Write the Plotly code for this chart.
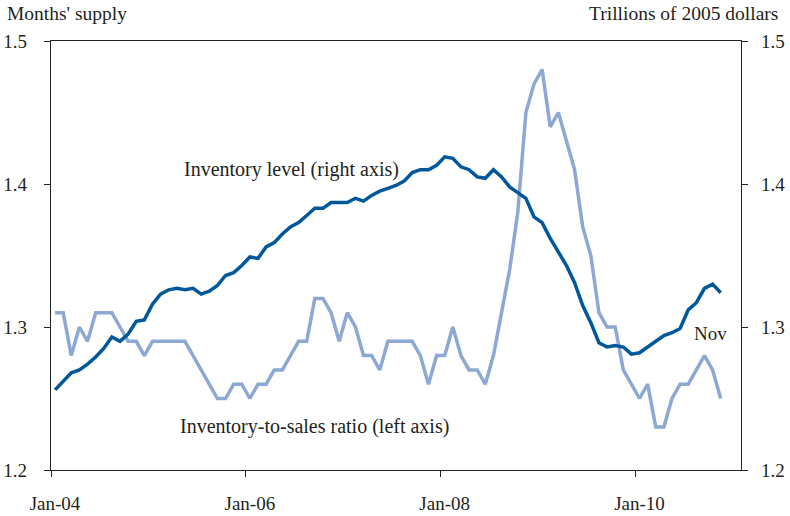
import plotly.graph_objects as go

# monthly, Jan-04 .. Nov-10
ratio = [1.31, 1.31, 1.28, 1.30, 1.29, 1.31, 1.31, 1.31, 1.30, 1.29,
         1.29, 1.28, 1.29, 1.29, 1.29, 1.29, 1.29, 1.28, 1.27, 1.26,
         1.25, 1.25, 1.26, 1.26, 1.25, 1.26, 1.26, 1.27, 1.27, 1.28,
         1.29, 1.29, 1.32, 1.32, 1.31, 1.29, 1.31, 1.30, 1.28, 1.28,
         1.27, 1.29, 1.29, 1.29, 1.29, 1.28, 1.26, 1.28, 1.28, 1.30,
         1.28, 1.27, 1.27, 1.26, 1.28, 1.31, 1.34, 1.38, 1.45, 1.47,
         1.48, 1.44, 1.45, 1.43, 1.41, 1.37, 1.35, 1.31, 1.30, 1.30,
         1.27, 1.26, 1.25, 1.26, 1.23, 1.23, 1.25, 1.26, 1.26, 1.27,
         1.28, 1.27, 1.25]

level = [1.256, 1.262, 1.268, 1.270, 1.274, 1.279, 1.285, 1.293, 1.290, 1.295,
         1.304, 1.305, 1.316, 1.323, 1.326, 1.327, 1.326, 1.327, 1.323, 1.325,
         1.329, 1.336, 1.338, 1.343, 1.349, 1.348, 1.356, 1.359, 1.365, 1.370,
         1.373, 1.378, 1.383, 1.383, 1.387, 1.387, 1.387, 1.390, 1.388, 1.392,
         1.395, 1.397, 1.399, 1.402, 1.408, 1.410, 1.410, 1.413, 1.419, 1.418,
         1.412, 1.410, 1.405, 1.404, 1.410, 1.405, 1.398, 1.394, 1.390, 1.377,
         1.373, 1.362, 1.352, 1.343, 1.331, 1.315, 1.303, 1.289, 1.286, 1.287,
         1.286, 1.281, 1.282, 1.286, 1.290, 1.294, 1.296, 1.299, 1.312, 1.317,
         1.327, 1.330, 1.324]

tick_pos = [-0.5, 23.5, 47.5, 71.5]
tick_labels = ["Jan-04", "Jan-06", "Jan-08", "Jan-10"]
y_ticks = [1.2, 1.3, 1.4, 1.5]

months = list(range(len(ratio)))

dark = "#00579A"
light = "#8CA8D3"
txt = "#231F20"
font = "Liberation Serif"

fig = go.Figure()
fig.add_trace(go.Scatter(x=months, y=ratio, mode="lines", yaxis="y",
                         line=dict(color=light, width=3.5), showlegend=False))
fig.add_trace(go.Scatter(x=months, y=level, mode="lines", yaxis="y2",
                         line=dict(color=dark, width=3.5), showlegend=False))

axis_common = dict(showline=True, linecolor="#222", linewidth=1.2,
                   ticks="outside", ticklen=6, tickcolor="#222",
                   showgrid=False, zeroline=False, automargin=False,
                   tickfont=dict(family=font, size=19, color=txt))

fig.update_layout(
    width=790, height=516,
    margin=dict(l=51, r=49, t=41, b=46),
    paper_bgcolor="white", plot_bgcolor="white",
    font=dict(family=font, color=txt),
    xaxis=dict(range=[-0.5, 84.5], tickvals=tick_pos, ticktext=tick_labels,
               mirror=True, ticklabelstandoff=10, ticklabelshift=4,
               **axis_common),
    yaxis=dict(range=[1.2, 1.5], tickvals=y_ticks, tickformat=".1f",
               ticklabelstandoff=13, **axis_common),
    yaxis2=dict(range=[1.2, 1.5], tickvals=y_ticks, tickformat=".1f",
                overlaying="y", side="right", ticklabelstandoff=9,
                **axis_common),
)

annots = [
    dict(text="Months' supply", xref="paper", yref="paper", x=-0.067, y=1.065,
         xanchor="left", yanchor="middle", size=19.5),
    dict(text="Trillions of 2005 dollars", xref="paper", yref="paper", x=1.057, y=1.065,
         xanchor="right", yanchor="middle", size=19.5),
    dict(text="Inventory level (right axis)", xref="x", yref="y", x=15.6, y=1.410,
         xanchor="left", yanchor="middle", size=20),
    dict(text="Inventory-to-sales ratio (left axis)", xref="x", yref="y", x=15.1, y=1.2305,
         xanchor="left", yanchor="middle", size=20),
    dict(text="Nov", xref="x", yref="y", x=78.5, y=1.2955,
         xanchor="left", yanchor="middle", size=19),
]
for a in annots:
    size = a.pop("size")
    fig.add_annotation(showarrow=False, font=dict(family=font, size=size, color=txt), **a)

# page body has a default 8px margin; drop it so the figure sits at 0,0
fig.write_html("out.html", config={"displayModeBar": False},
               post_script="document.body.style.margin='0px';document.body.style.overflow='hidden';")
